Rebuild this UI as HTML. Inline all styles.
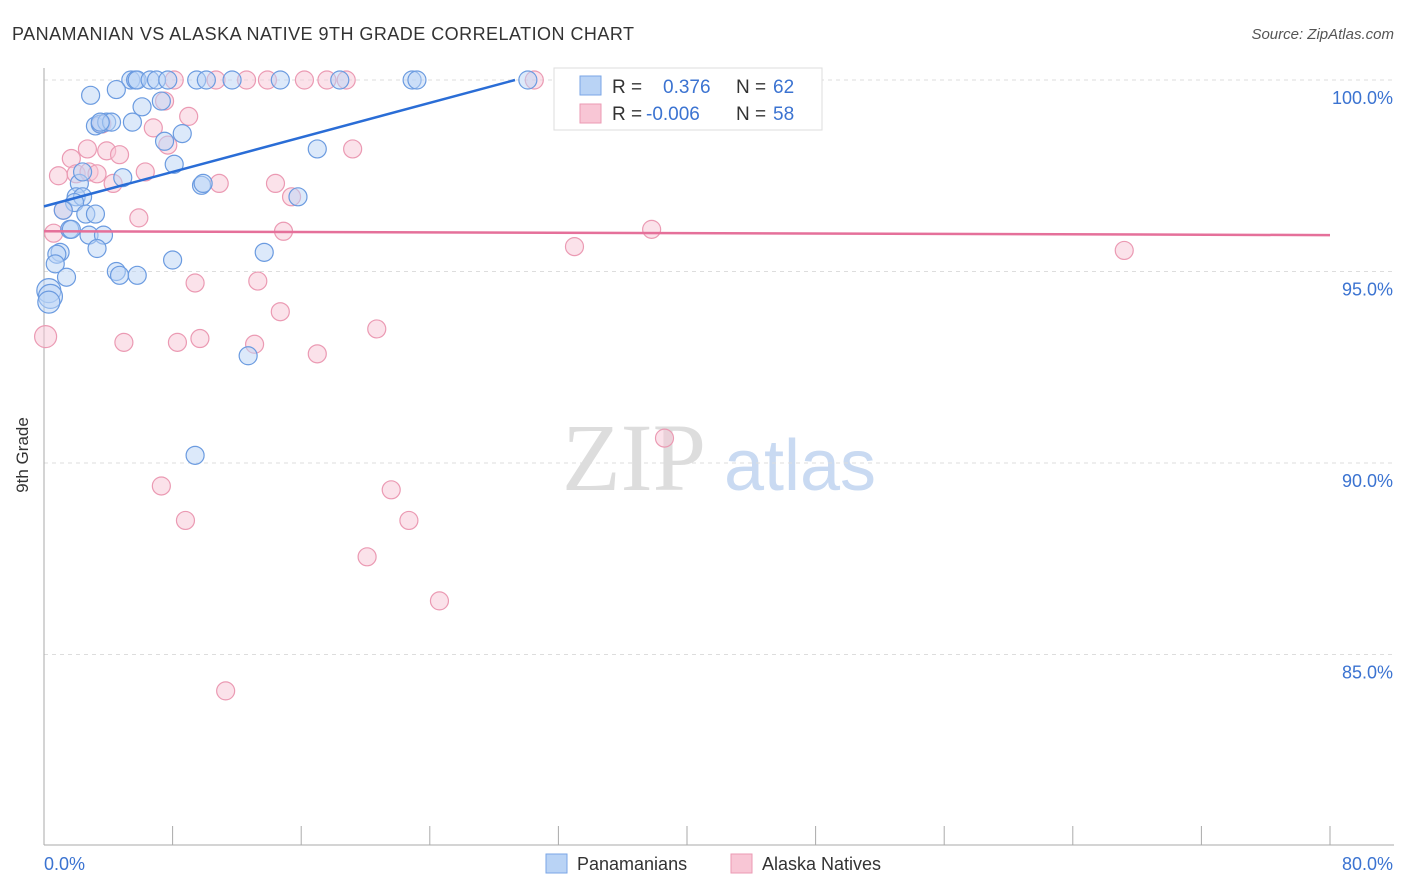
<!DOCTYPE html>
<html><head><meta charset="utf-8">
<style>
body{margin:0;background:#fff;font-family:"Liberation Sans",sans-serif;}
#wrap{position:relative;width:1406px;height:892px;overflow:hidden;}
</style></head>
<body>
<div id="wrap">
<svg id="svg" width="1406" height="892" xmlns="http://www.w3.org/2000/svg">
<text x="12" y="40" font-size="18" fill="#333" textLength="622">PANAMANIAN VS ALASKA NATIVE 9TH GRADE CORRELATION CHART</text>
<text x="1394" y="39" font-size="15" fill="#555" font-style="italic" text-anchor="end">Source: ZipAtlas.com</text>
<text x="634" y="490" font-size="96" font-family="Liberation Serif,serif" fill="#ddd" text-anchor="middle">ZIP</text>
<text x="800" y="490" font-size="72" fill="#c9daf2" text-anchor="middle">atlas</text>
<g id="grid"></g>
<g id="axes"></g>
<g id="pts"></g>
<g id="trends"></g>
<text x="28" y="455" font-size="17" fill="#333" text-anchor="middle" transform="rotate(-90 28 455)">9th Grade</text>
<g>
<rect x="554" y="68" width="268" height="62" fill="#fff" stroke="#ddd"/>
<rect x="580" y="76" width="21" height="19" fill="#b9d3f5" stroke="#7aa6e6"/>
<rect x="580" y="104" width="21" height="19" fill="#f8c6d5" stroke="#eb9ab3"/>
<text x="612" y="93" font-size="19" fill="#333">R =</text>
<text x="663" y="93" font-size="19" fill="#3b73d1">0.376</text>
<text x="736" y="93" font-size="19" fill="#333">N =</text>
<text x="773" y="93" font-size="19" fill="#3b73d1">62</text>
<text x="612" y="120" font-size="19" fill="#333">R =</text>
<text x="646" y="120" font-size="19" fill="#3b73d1">-0.006</text>
<text x="736" y="120" font-size="19" fill="#333">N =</text>
<text x="773" y="120" font-size="19" fill="#3b73d1">58</text>
</g>
<g>
<rect x="546" y="854" width="21" height="19" fill="#b9d3f5" stroke="#7aa6e6"/>
<text x="577" y="870" font-size="18" fill="#333">Panamanians</text>
<rect x="731" y="854" width="21" height="19" fill="#f8c6d5" stroke="#eb9ab3"/>
<text x="762" y="870" font-size="18" fill="#333">Alaska Natives</text>
</g>
</svg>
</div>
<script>
const yTicks=[100,95,90,85];
const yTickLabels=["100.0%","95.0%","90.0%","85.0%"];
const xTickLabels=["0.0%","80.0%"];
const blueX=[5.4,5.7,5.8,6.6,7.0,7.7,9.5,10.1,11.7,14.7,18.4,22.9,23.2,30.1,41.8,2.9,4.5,6.1,7.3,3.2,3.5,3.9,4.2,5.5,8.6,7.5,8.1,17.0,2.2,2.0,2.4,1.9,1.2,2.6,3.2,4.9,2.4,9.8,9.9,15.8,1.6,1.7,2.8,3.7,3.3,1.0,0.8,0.7,13.7,8.0,4.5,4.7,5.8,1.4,0.3,0.4,0.3,12.7,9.4,3.5];
const blueY=[100,100,100,100,100,100,100,100,100,100,100,100,100,100,100,99.6,99.75,99.3,99.45,98.8,98.85,98.9,98.9,98.9,98.6,98.4,97.8,98.2,97.3,96.95,96.95,96.8,96.6,96.5,96.5,97.45,97.6,97.25,97.3,96.95,96.1,96.1,95.95,95.95,95.6,95.5,95.45,95.2,95.5,95.3,95.0,94.9,94.9,94.85,94.5,94.35,94.2,92.8,90.2,98.9];
const blueR=[9,9,9,9,9,9,9,9,9,9,9,9,9,9,9,9,9,9,9,9,9,9,9,9,9,9,9,9,9,9,9,9,9,9,9,9,9,9,9,9,9,9,9,9,9,9,9,9,9,9,9,9,9,9,12,12,11,9,9,9];
const pinkX=[8.1,10.7,12.6,13.9,16.2,17.6,18.8,30.5,44.7,45.2,7.5,9.0,3.6,6.8,7.7,2.7,3.9,4.7,1.7,19.2,6.3,4.3,0.9,2.0,2.8,3.3,10.9,14.4,15.4,1.2,5.9,0.6,14.9,33.0,37.8,67.2,9.4,13.3,14.7,20.7,0.1,4.97,8.3,9.7,13.1,17.0,38.6,7.3,8.8,21.6,22.7,20.1,24.6,11.3];
const pinkY=[100,100,100,100,100,100,100,100,100,100,99.45,99.05,98.85,98.75,98.3,98.2,98.15,98.05,97.95,98.2,97.6,97.3,97.5,97.55,97.6,97.55,97.3,97.3,96.95,96.6,96.4,96.0,96.05,95.65,96.1,95.55,94.7,94.75,93.95,93.5,93.3,93.15,93.15,93.25,93.1,92.85,90.65,89.4,88.5,89.3,88.5,87.55,86.4,84.05];
const pinkR=[9,9,9,9,9,9,9,9,9,9,9,9,9,9,9,9,9,9,9,9,9,9,9,9,9,9,9,9,9,9,9,9,9,9,9,9,9,9,9,9,11,9,9,9,9,9,9,9,9,9,9,9,9,9];
const blueTrend=[0,96.7,29.3,100];
const pinkTrend=[0,96.05,80,95.95];
const X=v=>44+v*16.075, Y=v=>80+(100-v)*38.3;
const NS="http://www.w3.org/2000/svg";
function mk(tag,attrs,parent){const e=document.createElementNS(NS,tag);for(const k in attrs)e.setAttribute(k,attrs[k]);document.getElementById(parent).appendChild(e);return e;}
yTicks.forEach((t,i)=>{
 const l=mk('line',{x1:44,x2:1394,y1:Y(t),y2:Y(t),stroke:'#ddd','stroke-dasharray':'4,4'},'grid');
 
 
 const tx=mk('text',{x:1393,y:Y(t)+24,'font-size':18,fill:'#3b73d1','text-anchor':'end'},'grid');
 tx.textContent=yTickLabels[i];
 
 
});
let a=mk('line',{x1:44,x2:44,y1:68,y2:845,stroke:'#aaa'},'axes');


a=mk('line',{x1:44,x2:1394,y1:845,y2:845,stroke:'#aaa'},'axes');


for(let i=0;i<=10;i++){const t=mk('line',{x1:X(i*8),x2:X(i*8),y1:826,y2:845,stroke:'#aaa'},'axes');
 
 }
[[0,'start'],[80,'end']].forEach((p,i)=>{const t=mk('text',{x:i?1393:44,y:870,'font-size':18,fill:'#3b73d1','text-anchor':p[1]},'axes');t.textContent=xTickLabels[i];
 
 });
function pts(xs,ys,rs,fill,stroke,name){xs.forEach((x,i)=>{const c=mk('circle',{cx:X(x),cy:Y(ys[i]),r:rs[i],fill:fill,'fill-opacity':0.5,stroke:stroke,'stroke-width':1.2},'pts');
 
 });}
pts(pinkX,pinkY,pinkR,'#f8c6d5','#eb9ab3','alaska-native-point');
pts(blueX,blueY,blueR,'#b9d3f5','#6b9be0','panamanian-point');
let tl=mk('line',{x1:X(blueTrend[0]),y1:Y(blueTrend[1]),x2:X(blueTrend[2]),y2:Y(blueTrend[3]),stroke:'#2a6dd6','stroke-width':2.5},'trends');


tl=mk('line',{x1:X(pinkTrend[0]),y1:Y(pinkTrend[1]),x2:X(pinkTrend[2]),y2:Y(pinkTrend[3]),stroke:'#e5709a','stroke-width':2.5},'trends');


</script>
</body></html>
